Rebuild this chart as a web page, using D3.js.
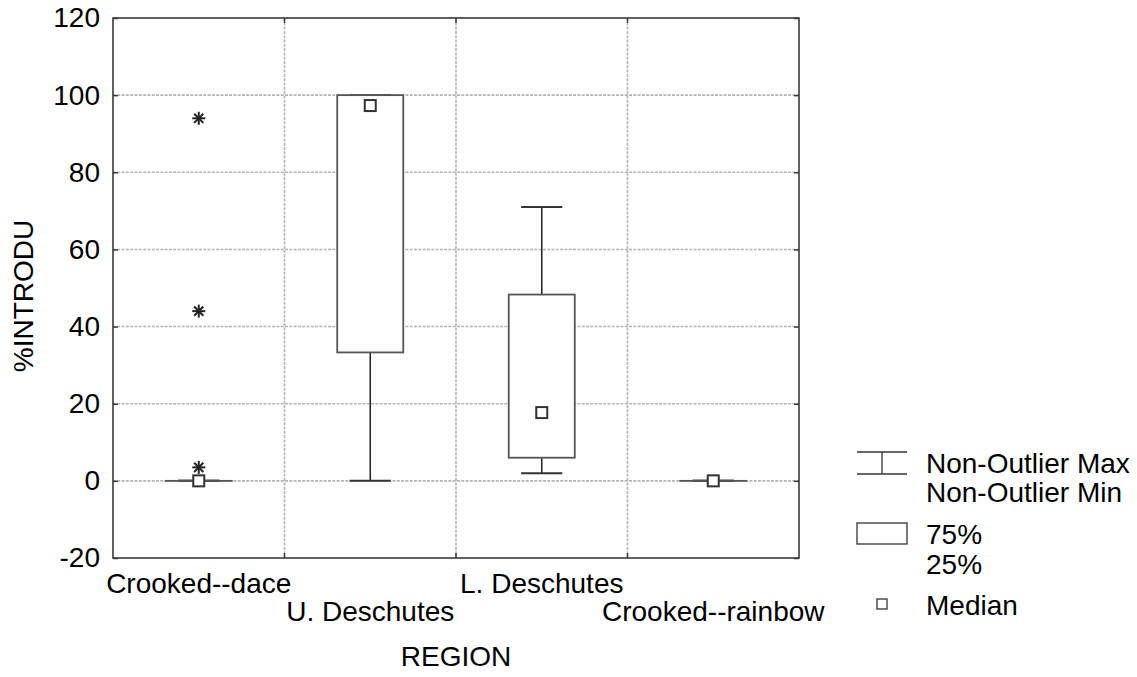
<!DOCTYPE html>
<html>
<head>
<meta charset="utf-8">
<script src="https://d3js.org/d3.v7.min.js"></script>
<style>
    body { margin: 0; background: #ffffff; }
    svg { display: block; }
    text { font-family: "Liberation Sans", Arial, sans-serif; fill: #000; }
</style>
</head>
<body>
<script>
// chart values
var categories = ["Crooked--dace", "U. Deschutes", "L. Deschutes", "Crooked--rainbow"];
var medians    = [0, 97.3, 17.7, 0];
var q25        = [0, 33.3, 6, 0];
var q75        = [0, 100, 48.3, 0];
var nonOutMin  = [0, 0, 2, 0];
var nonOutMax  = [0, 100, 71, 0];
var outliers   = [[94, 44, 3.5], [], [], []];
var yTicks     = [-20, 0, 20, 40, 60, 80, 100, 120];
var legendLabels = [["Non-Outlier Max", "Non-Outlier Min"], ["75%", "25%"], ["Median"]];

var W = 1137, H = 677;
var pL = 113, pR = 799, pT = 18, pB = 558;
var fs = 28;

var svg = d3.select("body").append("svg")
    .attr("width", W).attr("height", H);

var x = d3.scaleBand().domain(categories).range([pL, pR]).padding(0);
var y = d3.scaleLinear().domain([-20, 120]).range([pB, pT]);

// grid
var grid = svg.append("g");
grid.selectAll("line.h")
    .data(yTicks.filter(function(d) { return d > -20 && d < 120; }))
    .enter().append("line")
    .attr("x1", pL).attr("x2", pR)
    .attr("y1", function(d) { return y(d); })
    .attr("y2", function(d) { return y(d); })
    .attr("stroke", "#b4b4b4").attr("stroke-width", 1.6)
    .attr("stroke-dasharray", "3,1.3");
grid.selectAll("line.v")
    .data(categories.slice(1))
    .enter().append("line")
    .attr("x1", function(d) { return x(d); })
    .attr("x2", function(d) { return x(d); })
    .attr("y1", pT).attr("y2", pB)
    .attr("stroke", "#b4b4b4").attr("stroke-width", 1.6)
    .attr("stroke-dasharray", "3,1.3");

// boxes
var bw = x.bandwidth() * 0.385;
var cw = x.bandwidth() * 0.24;
var boxes = svg.append("g");
categories.forEach(function(c, i) {
    var cx = x(c) + x.bandwidth() / 2;
    var g = boxes.append("g");
    // whisker stems
    g.append("line").attr("x1", cx).attr("x2", cx)
        .attr("y1", y(q75[i])).attr("y2", y(nonOutMax[i]))
        .attr("stroke", "#222").attr("stroke-width", 1.5);
    g.append("line").attr("x1", cx).attr("x2", cx)
        .attr("y1", y(q25[i])).attr("y2", y(nonOutMin[i]))
        .attr("stroke", "#222").attr("stroke-width", 1.5);
    // caps
    [nonOutMax[i], nonOutMin[i]].forEach(function(v) {
        g.append("line").attr("x1", cx - cw / 2).attr("x2", cx + cw / 2)
            .attr("y1", y(v)).attr("y2", y(v))
            .attr("stroke", "#333").attr("stroke-width", 2);
    });
    // box
    g.append("rect")
        .attr("x", cx - bw / 2).attr("width", bw)
        .attr("y", y(q75[i])).attr("height", Math.max(y(q25[i]) - y(q75[i]), 0.01))
        .attr("fill", "#fff").attr("stroke", "#555").attr("stroke-width", 1.8);
    // median
    g.append("rect")
        .attr("x", cx - 5.5).attr("y", y(medians[i]) - 5.5)
        .attr("width", 11).attr("height", 11)
        .attr("fill", "#fff").attr("stroke", "#333").attr("stroke-width", 2);
    // outliers as asterisks
    outliers[i].forEach(function(v) {
        var a = g.append("g").attr("transform", "translate(" + cx + "," + y(v) + ")");
        [0, 45, 90, 135].forEach(function(ang) {
            a.append("line").attr("x1", -6.5).attr("x2", 6.5).attr("y1", 0).attr("y2", 0)
                .attr("transform", "rotate(" + ang + ")")
                .attr("stroke", "#222").attr("stroke-width", 2);
        });
    });
});

// frame and axes
svg.append("rect")
    .attr("x", pL).attr("y", pT)
    .attr("width", pR - pL).attr("height", pB - pT)
    .attr("fill", "none").attr("stroke", "#3a3a3a").attr("stroke-width", 1.6);

var yAxis = svg.append("g")
    .attr("transform", "translate(" + pL + ",0)")
    .call(d3.axisLeft(y).tickValues(yTicks).tickSize(-5).tickPadding(13)
        .tickFormat(function(d) { return String(d); }));
yAxis.select(".domain").remove();
yAxis.selectAll(".tick line").attr("stroke", "#3a3a3a").attr("stroke-width", 1.5);
yAxis.selectAll(".tick text").attr("font-size", fs).style("font-family", "Liberation Sans, Arial, sans-serif");

var yAxisR = svg.append("g")
    .attr("transform", "translate(" + pR + ",0)")
    .call(d3.axisRight(y).tickValues(yTicks).tickSize(-5).tickFormat(""));
yAxisR.select(".domain").remove();
yAxisR.selectAll(".tick line").attr("stroke", "#3a3a3a").attr("stroke-width", 1.5);

[pB, pT].forEach(function(yy, k) {
    svg.append("g").selectAll("line")
        .data(categories.slice(1))
        .enter().append("line")
        .attr("x1", function(d) { return x(d); })
        .attr("x2", function(d) { return x(d); })
        .attr("y1", yy).attr("y2", k === 0 ? yy - 5 : yy + 5)
        .attr("stroke", "#3a3a3a").attr("stroke-width", 1.5);
});

// category labels, staggered
svg.append("g").selectAll("text")
    .data(categories)
    .enter().append("text")
    .attr("x", function(d) { return x(d) + x.bandwidth() / 2; })
    .attr("y", function(d, i) { return i % 2 === 0 ? 593 : 621; })
    .attr("text-anchor", "middle")
    .attr("font-size", fs)
    .text(function(d) { return d; });

svg.append("text")
    .attr("x", (pL + pR) / 2).attr("y", 666)
    .attr("text-anchor", "middle").attr("font-size", fs)
    .text("REGION");

svg.append("text")
    .attr("transform", "translate(33,296) rotate(-90)")
    .attr("text-anchor", "middle").attr("font-size", fs)
    .text("%INTRODU");

// legend
var lg = svg.append("g");
var lx0 = 857, lx1 = 907, lcx = 882, tx = 926;
lg.append("line").attr("x1", lx0).attr("x2", lx1).attr("y1", 452).attr("y2", 452).attr("stroke", "#333").attr("stroke-width", 1.3);
lg.append("line").attr("x1", lx0).attr("x2", lx1).attr("y1", 474).attr("y2", 474).attr("stroke", "#333").attr("stroke-width", 1.3);
lg.append("line").attr("x1", lcx).attr("x2", lcx).attr("y1", 452).attr("y2", 474).attr("stroke", "#333").attr("stroke-width", 1.3);
lg.append("rect").attr("x", lx0).attr("y", 523).attr("width", lx1 - lx0).attr("height", 21)
    .attr("fill", "#fff").attr("stroke", "#333").attr("stroke-width", 1.3);
lg.append("rect").attr("x", lcx - 5).attr("y", 599).attr("width", 10).attr("height", 10)
    .attr("fill", "#fff").attr("stroke", "#333").attr("stroke-width", 1.3);

var legendBaselines = [[473, 502], [544, 574], [615]];
legendLabels.forEach(function(pair, i) {
    pair.forEach(function(t, j) {
        lg.append("text").attr("x", tx).attr("y", legendBaselines[i][j])
            .attr("font-size", fs).text(t);
    });
});
</script>
</body>
</html>
